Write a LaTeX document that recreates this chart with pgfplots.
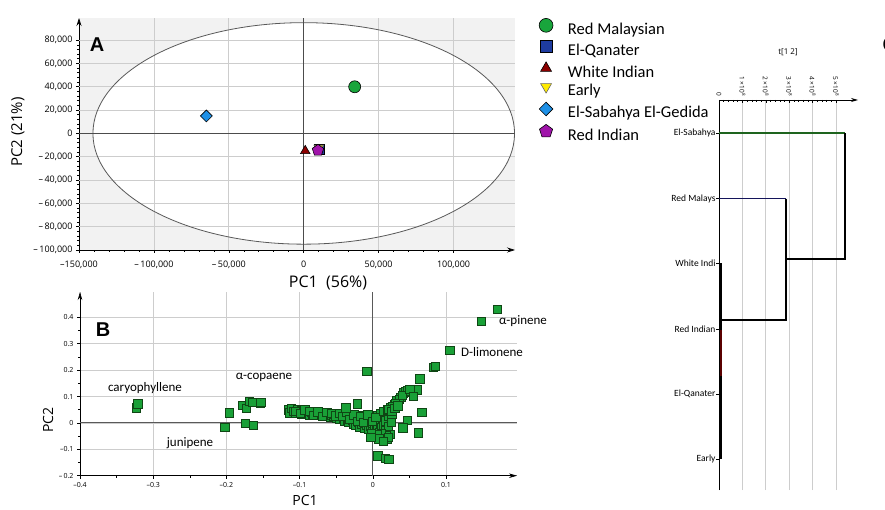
\documentclass[border=0pt]{standalone}
\usepackage{fontspec}
\setmainfont{Open Sans}
\newfontfamily\carl{Carlito}
\newfontfamily\libs{Liberation Sans}
\usepackage{pgfplots}
\pgfplotsset{compat=1.18}
\usetikzlibrary{arrows.meta}
\definecolor{cMal}{RGB}{25,165,60}
\definecolor{cQan}{RGB}{30,60,160}
\definecolor{cWhi}{RGB}{140,0,0}
\definecolor{cEar}{RGB}{255,235,0}
\definecolor{cSab}{RGB}{30,144,230}
\definecolor{cRI}{RGB}{160,20,170}
\definecolor{cB}{RGB}{25,160,55}
\definecolor{cBd}{RGB}{15,70,20}
\definecolor{gridc}{RGB}{205,205,205}
\begin{document}
\begin{tikzpicture}
% ---------------- Panel A (values in thousands)
\begin{axis}[
  at={(79pt,259pt)}, anchor=south west, scale only axis,
  width=436pt, height=232pt,
  xmin=-150, xmax=141, ymin=-100, ymax=99,
  axis lines=left,
  axis line style={-{Stealth[length=8pt,width=5pt]}, black, line width=0.7pt},
  axis background/.style={fill=black!5},
  scaled ticks=false,
  xtick={-150,-100,-50,0,50,100},
  xticklabels={{–150,000},{–\,100,000},{–\,50,000},0,{50,000},{100,000}},
  ytick={-100,-80,-60,-40,-20,0,20,40,60,80},
  yticklabels={{–\,100,000},{–\,80,000},{–\,60,000},{–\,40,000},{–\,20,000},0,{20,000},{40,000},{60,000},{80,000}},
  minor x tick num=4, minor y tick num=4,
  tick align=outside, major tick length=3pt, minor tick length=2pt,
  tick style={black, line width=0.6pt},
  tick label style={font=\fontsize{9}{10}\selectfont},
  x tick label style={yshift=-4pt},
  legend style={draw=none, fill=none, at={(axis description cs:1.055,0.999)}, anchor=north west,
    font=\carl\fontsize{16.5}{19}\selectfont, row sep=2.4pt, column sep=15pt, inner sep=0pt,
    nodes={inner sep=0pt, text height=12pt, text depth=4pt}},
  legend cell align=left,
  legend image code/.code={\draw[#1, every mark/.append style={scale=1.15}] plot coordinates {(0pt,5pt)};},
  clip=false,
]
\fill[white] (axis cs:0,0) ellipse [x radius=140.7, y radius=95];
\foreach \gx in {-100,-50,50,100} {\edef\tmp{\noexpand\draw[gridc, line width=0.7pt] (axis cs:\gx,-100) -- (axis cs:\gx,99);}\tmp}
\foreach \gy in {-80,-60,-40,-20,20,40,60,80} {\edef\tmp{\noexpand\draw[gridc, line width=0.7pt] (axis cs:-150,\gy) -- (axis cs:141,\gy);}\tmp}
\draw[black!65, line width=0.8pt] (axis cs:0,0) ellipse [x radius=140.7, y radius=95];
\draw[black!70, line width=1.8pt] (axis cs:-150,0) -- (axis cs:141,0);
\draw[black!70, line width=0.9pt] (axis cs:0,-100) -- (axis cs:0,99);
\addplot[only marks, mark=*, mark size=6pt, draw=black, fill=cMal, line width=0.6pt] coordinates {(34,40)};
\addlegendentry{Red Malaysian}
\addplot[only marks, mark=square*, mark size=5pt, draw=black, fill=cQan, line width=0.6pt] coordinates {(10.5,-13.5)};
\addlegendentry{El-Qanater}
\addplot[only marks, mark=triangle*, mark size=5.5pt, draw=black, fill=cWhi, line width=0.6pt] coordinates {(1,-15)};
\addlegendentry{White Indian}
\addplot[only marks, mark=triangle*, mark options={rotate=180}, mark size=5.5pt, draw=black!60, fill=cEar, line width=0.6pt] coordinates {(10,-12.5)};
\addlegendentry{Early}
\addplot[only marks, mark=square*, mark options={rotate=45}, mark size=4.2pt, draw=black, fill=cSab, line width=0.6pt] coordinates {(-65,15)};
\addlegendentry{El-Sabahya El-Gedida}
\addplot[only marks, mark=pentagon*, mark size=6pt, draw=black, fill=cRI, line width=0.6pt] coordinates {(9.5,-14.5)};
\addlegendentry{Red Indian}
\end{axis}
\node[font=\libs\bfseries\fontsize{20}{22}\selectfont] at (97pt,464pt) {A};
\node[rotate=90, font=\fontsize{15}{16}\selectfont] at (18pt,377pt) {PC2 (21\%)};
\node[font=\fontsize{16}{17}\selectfont] at (328pt,226pt) {PC1\ \ (56\%)};
% ---------------- Panel B
\begin{axis}[
  at={(80pt,33.3pt)}, anchor=south west, scale only axis,
  width=437pt, height=183.7pt,
  xmin=-0.4, xmax=0.197, ymin=-0.2, ymax=0.496,
  axis lines=left,
  axis line style={-{Stealth[length=8pt,width=4.5pt]}, black, line width=0.6pt},
  xtick={-0.4,-0.3,-0.2,-0.1,0,0.1},
  xticklabels={–0.4,–0.3,–0.2,–0.1,0,0.1},
  ytick={-0.2,-0.1,0,0.1,0.2,0.3,0.4},
  yticklabels={–\,0.2,–0.1,0,0.1,0.2,0.3,0.4},
  minor x tick num=1, minor y tick num=1,
  tick align=outside, major tick length=3pt, minor tick length=2pt,
  tick style={black, line width=0.5pt},
  tick label style={font=\fontsize{7}{8}\selectfont},
  grid=major, grid style={gridc, line width=0.7pt},
  clip=false,
]
\draw[black!65, line width=0.9pt] (axis cs:-0.4,0) -- (axis cs:0.197,0);
\draw[black!65, line width=0.9pt] (axis cs:0,-0.2) -- (axis cs:0,0.496);
\addplot[only marks, mark=square*, mark size=4.2pt, draw=cBd, fill=cB, line width=0.6pt] coordinates {
(-0.115,0.050) (-0.114,0.038) (-0.111,0.056) (-0.108,0.045) (-0.105,0.036) (-0.103,0.051) (-0.100,0.043)
(-0.098,0.032) (-0.097,0.048) (-0.094,0.040) (-0.092,0.035) (-0.090,0.045) (-0.088,0.038) (-0.086,0.030)
(-0.084,0.042) (-0.082,0.035) (-0.080,0.040) (-0.078,0.032) (-0.076,0.037) (-0.074,0.028) (-0.072,0.036)
(-0.070,0.031) (-0.068,0.038) (-0.066,0.026) (-0.064,0.033) (-0.062,0.028) (-0.060,0.035) (-0.058,0.023)
(-0.056,0.031) (-0.054,0.026) (-0.052,0.034) (-0.050,0.020) (-0.048,0.029) (-0.046,0.015) (-0.044,0.025)
(-0.042,0.032) (-0.040,0.018) (-0.039,0.008) (-0.037,0.027) (-0.035,0.012) (-0.033,0.002) (-0.031,0.022)
(-0.030,0.033) (-0.028,0.010) (-0.027,-0.005) (-0.025,0.020) (-0.023,-0.010) (-0.022,0.013) (-0.020,0.027)
(-0.019,0.003) (-0.018,-0.015) (-0.016,0.017) (-0.015,-0.004) (-0.014,0.008) (-0.012,-0.020) (-0.011,0.021)
(-0.010,0.001) (-0.009,-0.010) (-0.008,0.012) (-0.006,-0.025) (-0.005,0.004) (-0.004,0.024) (-0.003,-0.012)
(-0.002,0.014) (0.000,-0.032) (0.000,-0.002) (0.001,0.019) (0.002,-0.016) (0.003,0.007) (0.004,-0.046)
(0.005,-0.006) (0.006,0.029) (0.007,-0.026) (0.008,0.011) (0.009,-0.036) (0.010,0.000) (0.011,0.037)
(0.012,-0.018) (0.013,0.020) (0.014,-0.052) (0.015,-0.008) (0.016,0.030) (0.017,-0.030) (0.018,0.008)
(0.019,-0.062) (0.020,0.040) (0.021,-0.015) (0.022,0.024) (0.023,-0.042) (0.024,0.050) (0.025,0.004)
(0.026,0.034) (0.018,-0.048) (0.012,-0.040) (0.006,-0.045) (-0.002,-0.040) (0.008,-0.060) (0.021,-0.055)
(-0.106,0.044) (-0.099,0.037) (-0.093,0.050) (-0.087,0.044) (-0.081,0.028) (-0.075,0.042) (-0.069,0.024)
(-0.063,0.040) (-0.057,0.037) (-0.051,0.027) (-0.045,0.036) (-0.041,0.024) (-0.036,0.040) (-0.032,0.014)
(-0.026,0.030) (-0.021,0.005) (-0.017,0.024) (-0.013,0.002) (-0.007,0.030) (-0.001,0.006) (0.004,0.022)
(0.015,0.044) (0.020,0.049) (0.024,0.059) (0.029,0.069) (0.033,0.084) (0.038,0.097) (0.042,0.114)
(0.045,0.118) (0.048,0.122) (0.036,0.090) (0.031,0.075) (0.027,0.062) (0.022,0.052) (0.026,0.045)
(0.030,0.055) (0.034,0.065) (0.040,0.105) (0.052,0.128)
(-0.323,0.057) (-0.321,0.072)
(-0.202,-0.017) (-0.196,0.038)
(-0.178,0.066) (-0.173,0.055) (-0.169,0.081) (-0.165,0.078) (-0.174,-0.001) (-0.163,-0.010) (-0.154,0.074) (-0.153,0.078)
(0.170,0.430) (0.148,0.385) (0.105,0.274) (0.083,0.211) (0.085,0.214)
(0.064,0.167) (0.061,0.125) (0.0505,0.127) (0.055,0.101) (0.067,0.040) (0.047,0.011) (0.041,-0.019) (0.062,-0.038)
(-0.008,0.195) (-0.021,0.072) (-0.037,0.057)
(0.007,-0.124) (0.017,-0.133) (0.022,-0.138)
(0.014,-0.070) (-0.003,-0.055)
};
\end{axis}
\node[font=\libs\bfseries\fontsize{20}{22}\selectfont] at (103pt,179pt) {B};
\node[rotate=90, font=\fontsize{14}{15}\selectfont] at (48pt,89pt) {PC2};
\node[font=\fontsize{14}{15}\selectfont] at (305pt,9pt) {PC1};
\node[font=\carl\fontsize{13}{14}\selectfont] at (145pt,121pt) {caryophyllene};
\node[font=\carl\fontsize{13}{14}\selectfont] at (264pt,132pt) {α-copaene};
\node[font=\carl\fontsize{13}{14}\selectfont] at (190pt,66pt) {junipene};
\node[font=\carl\fontsize{13}{14}\selectfont] at (523pt,188pt) {α-pinene};
\node[font=\carl\fontsize{13}{14}\selectfont] at (492pt,157pt) {D-limonene};
% ---------------- Panel C
\begin{axis}[
  at={(719pt,19pt)}, anchor=south west, scale only axis,
  width=139pt, height=390pt,
  xmin=0, xmax=5.94, ymin=0.529, ymax=6.511,
  axis x line=top, axis y line=left,
  x axis line style={-{Stealth[length=7pt,width=4pt]}, black, line width=0.7pt},
  y axis line style={-, black, line width=0.7pt},
  scaled ticks=false,
  xtick={0,1,2,3,4,5},
  xticklabels={0,{1\,×\,10\textsuperscript{8}},{2\,×\,10\textsuperscript{8}},{3\,×\,10\textsuperscript{8}},{4\,×\,10\textsuperscript{8}},{5\,×\,10\textsuperscript{8}}},
  minor x tick num=4,
  x tick label style={rotate=-90, anchor=east, font=\fontsize{6.5}{7}\selectfont},
  ytick={1,2,3,4,5,6},
  yticklabels={Early,El-Qanater,Red Indian,White Indi,Red Malays,El-Sabahya},
  y tick label style={font=\carl\fontsize{9.5}{10}\selectfont},
  tick align=inside, major tick length=3pt, minor tick length=2pt,
  tick style={black, line width=0.5pt},
  y tick style={xshift=-3pt},
  xmajorgrids, grid style={gridc, line width=0.8pt},
  clip=false,
]
\addplot[no marks, line width=1.8pt, color={rgb,255:red,30;green,100;blue,30}] coordinates {(0,6) (5.38,6)};
\addplot[no marks, line width=1.8pt, black] coordinates {(5.38,6) (5.38,4.072) (2.86,4.072)};
\addplot[no marks, line width=1.8pt, color={rgb,255:red,20;green,20;blue,90}] coordinates {(0,5) (2.86,5)};
\addplot[no marks, line width=1.8pt, black] coordinates {(2.86,5) (2.86,3.137) (0.07,3.137)};
\addplot[no marks, line width=1.8pt, black] coordinates {(0,4) (0.07,4) (0.07,1)};
\addplot[no marks, line width=2.2pt, color={rgb,255:red,90;green,0;blue,0}] coordinates {(0.07,2.985) (0.07,2.27)};
\end{axis}
\node[font=\fontsize{8}{9}\selectfont] at (788pt,457pt) {t[1 2]};
\node[font=\libs\bfseries\fontsize{20}{22}\selectfont, anchor=west] at (879pt,464pt) {C};
\pgfresetboundingbox
\path[use as bounding box] (0pt,0pt) rectangle (885pt,509pt);
\end{tikzpicture}
\end{document}
